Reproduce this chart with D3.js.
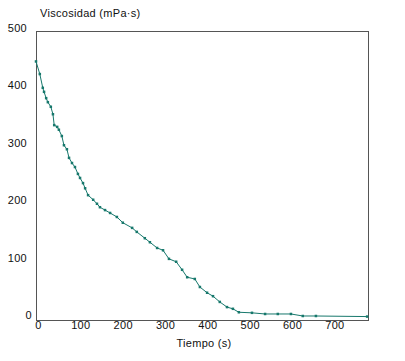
<!DOCTYPE html>
<html><head><meta charset="utf-8">
<script src="https://cdn.jsdelivr.net/npm/d3@7"></script>
<style>body{margin:0;background:#fff}svg{display:block}text{font-family:"Liberation Sans",Arial,sans-serif;font-size:11px;fill:#111;letter-spacing:0.3px}</style>
</head><body><svg id="c" width="405" height="361"></svg>
<script>
const tiempo = [0,9,16,19,24,28,35,40,43,50,54,61,66,73,78,85,92,99,104,111,116,123,135,144,151,163,175,191,205,227,238,257,269,286,300,314,331,345,357,375,387,404,418,434,451,465,479,510,541,571,602,630,661,782];
const viscosidad = [447,425,401,394,383,376,368,355,336,333,328,317,301,294,279,270,263,251,244,235,226,214,206,199,193,188,183,176,166,157,150,139,132,122,118,103,98,84,71,68,54,44,38,28,19,16,10,9,7,7,7,3.5,3.5,2.5];
const xTicks = [0,100,200,300,400,500,600,700];
const yTicks = [0,100,200,300,400,500];
const yLabel = "Viscosidad (mPa·s)";
const xLabel = "Tiempo (s)";

const svg = d3.select("#c");
const x = d3.scaleLinear().domain([0,784]).range([36,368]);
const y = d3.scaleLinear().domain([0,500]).range([318,31]);
const color = "#17786c";

svg.append("rect").attr("x",36).attr("y",31).attr("width",332).attr("height",289)
  .attr("fill","none").attr("stroke","#555").attr("stroke-width",1).attr("shape-rendering","crispEdges");

svg.selectAll(".yt").data(yTicks).enter().append("text")
  .attr("x",d=>d===0?32:27).attr("y",d=>y(d)+1).attr("text-anchor","end").text(d=>d);
svg.selectAll(".xt").data(xTicks).enter().append("text")
  .attr("x",d=>x(d)+2.5).attr("y",329).attr("text-anchor","middle").text(d=>d);

svg.append("text").attr("x",40).attr("y",17).text(yLabel);
svg.append("text").attr("x",204).attr("y",347).attr("text-anchor","middle").text(xLabel);

const pts = tiempo.map((t,i)=>[t,viscosidad[i]]);
svg.append("path").datum(pts).attr("fill","none").attr("stroke",color).attr("stroke-width",1)
  .attr("d",d3.line().x(d=>x(d[0])).y(d=>y(d[1])));
svg.selectAll(".m").data(pts).enter().append("rect")
  .attr("x",d=>x(d[0])-1.25).attr("y",d=>y(d[1])-1.25).attr("width",2.5).attr("height",2.5).attr("fill",color);
</script></body></html>
